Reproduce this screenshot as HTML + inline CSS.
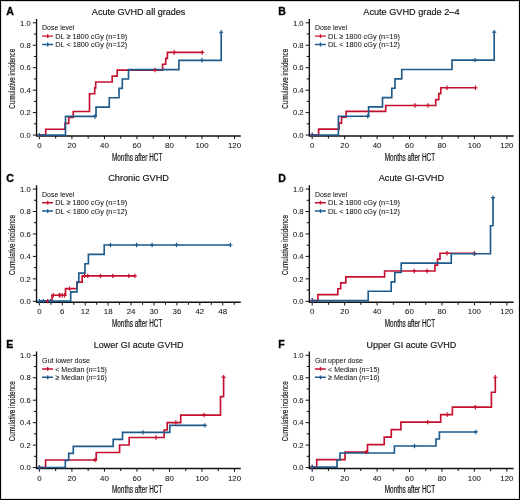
<!DOCTYPE html>
<html><head><meta charset="utf-8"><style>
html,body{margin:0;padding:0;background:#fff;}
svg{display:block;font-family:"Liberation Sans", sans-serif;filter:blur(0.3px);}
text{stroke:#111;stroke-width:0.05px;paint-order:stroke;}
text.b{stroke-width:0.2px;}
text.c{stroke-width:0.14px;}
text.t{stroke-width:0.15px;}
</style></head><body>
<svg width="520" height="500" viewBox="0 0 520 500">
<rect x="0" y="0" width="520" height="500" fill="#fff"/>
<g><text x="6.30" y="14.60" font-weight="bold" font-size="10.6" fill="#000" style="stroke:#000;stroke-width:0.3px">A</text><text x="138.60" y="14.50" class="t" font-size="9.5" fill="#111" text-anchor="middle" textLength="93.5" lengthAdjust="spacingAndGlyphs">Acute GVHD all grades</text><path d="M36.55 19.00V136.60M35.95 136.00H240.80" stroke="#111" stroke-width="1.35" fill="none"/><path d="M32.85 135.05H36.55 M33.85 123.83H36.55 M32.85 112.60H36.55 M33.85 101.38H36.55 M32.85 90.15H36.55 M33.85 78.93H36.55 M32.85 67.70H36.55 M33.85 56.48H36.55 M32.85 45.25H36.55 M33.85 34.03H36.55 M32.85 22.80H36.55 M39.40 136.00V139.20 M55.66 136.00V138.60 M71.92 136.00V139.20 M88.18 136.00V138.60 M104.44 136.00V139.20 M120.70 136.00V138.60 M136.96 136.00V139.20 M153.22 136.00V138.60 M169.48 136.00V139.20 M185.74 136.00V138.60 M202.00 136.00V139.20 M218.26 136.00V138.60 M234.52 136.00V139.20" stroke="#111" stroke-width="1" fill="none"/><text x="30.80" y="137.75" font-size="7.9" fill="#111" text-anchor="end" textLength="10.7" lengthAdjust="spacingAndGlyphs">0.0</text><text x="30.80" y="115.30" font-size="7.9" fill="#111" text-anchor="end" textLength="10.7" lengthAdjust="spacingAndGlyphs">0.2</text><text x="30.80" y="92.85" font-size="7.9" fill="#111" text-anchor="end" textLength="10.7" lengthAdjust="spacingAndGlyphs">0.4</text><text x="30.80" y="70.40" font-size="7.9" fill="#111" text-anchor="end" textLength="10.7" lengthAdjust="spacingAndGlyphs">0.6</text><text x="30.80" y="47.95" font-size="7.9" fill="#111" text-anchor="end" textLength="10.7" lengthAdjust="spacingAndGlyphs">0.8</text><text x="30.80" y="25.50" font-size="7.9" fill="#111" text-anchor="end" textLength="10.7" lengthAdjust="spacingAndGlyphs">1.0</text><text x="39.40" y="148.00" font-size="8.1" fill="#111" text-anchor="middle" textLength="4.40" lengthAdjust="spacingAndGlyphs">0</text><text x="71.92" y="148.00" font-size="8.1" fill="#111" text-anchor="middle" textLength="8.80" lengthAdjust="spacingAndGlyphs">20</text><text x="104.44" y="148.00" font-size="8.1" fill="#111" text-anchor="middle" textLength="8.80" lengthAdjust="spacingAndGlyphs">40</text><text x="136.96" y="148.00" font-size="8.1" fill="#111" text-anchor="middle" textLength="8.80" lengthAdjust="spacingAndGlyphs">60</text><text x="169.48" y="148.00" font-size="8.1" fill="#111" text-anchor="middle" textLength="8.80" lengthAdjust="spacingAndGlyphs">80</text><text x="202.00" y="148.00" font-size="8.1" fill="#111" text-anchor="middle" textLength="13.20" lengthAdjust="spacingAndGlyphs">100</text><text x="234.52" y="148.00" font-size="8.1" fill="#111" text-anchor="middle" textLength="13.20" lengthAdjust="spacingAndGlyphs">120</text><text class="b" x="112.00" y="160.50" font-size="10" fill="#111" textLength="50.3" lengthAdjust="spacingAndGlyphs">Months after HCT</text><text class="c" transform="translate(15.20 108.80) rotate(-90)" font-size="9.9" fill="#111" textLength="60" lengthAdjust="spacingAndGlyphs">Cumulative incidence</text><text x="42.10" y="30.10" font-size="7.6" fill="#111" textLength="32.3" lengthAdjust="spacingAndGlyphs">Dose level</text><path d="M42.10 36.15H53.00M47.70 34.25V38.05" stroke="#c4102f" stroke-width="1.4" fill="none"/><text x="55.30" y="38.80" font-size="7.7" fill="#111" textLength="71.9" lengthAdjust="spacingAndGlyphs">DL ≥ 1800 cGy (n=19)</text><path d="M42.10 44.50H53.00M47.70 42.60V46.40" stroke="#1e5b8c" stroke-width="1.4" fill="none"/><text x="55.30" y="47.15" font-size="7.7" fill="#111" textLength="71.9" lengthAdjust="spacingAndGlyphs">DL &lt; 1800 cGy (n=12)</text><path d="M39.40 135.15H45.75V129.24H65.00V123.33H68.75V117.43H73.25V111.52H89.50V93.79H94.70V87.89H95.70V81.98H112.20V76.07H117.20V70.16H162.60V64.26H165.70V58.35H167.40V52.44H202.30" stroke="#c4102f" stroke-width="1.65" fill="none" stroke-linejoin="miter"/><path d="M39.40 135.15H65.50V116.44H96.00V107.09H109.30V97.73H119.00V88.38H122.30V79.03H128.50V69.67H178.90V60.32H221.20V32.25" stroke="#1e5b8c" stroke-width="1.65" fill="none" stroke-linejoin="miter"/><path d="M39.40 132.95V137.35M37.30 135.15H41.50 M154.90 67.96V72.36M152.80 70.16H157.00 M174.20 50.24V54.64M172.10 52.44H176.30 M202.30 50.24V54.64M200.20 52.44H204.40" stroke="#c4102f" stroke-width="1.2" fill="none"/><path d="M39.40 132.95V137.35M37.30 135.15H41.50 M95.00 114.24V118.64M92.90 116.44H97.10 M202.00 58.12V62.52M199.90 60.32H204.10 M221.20 30.05V34.45M219.10 32.25H223.30" stroke="#1e5b8c" stroke-width="1.2" fill="none"/></g><g><text x="278.30" y="14.60" font-weight="bold" font-size="10.6" fill="#000" style="stroke:#000;stroke-width:0.3px">B</text><text x="411.40" y="14.50" class="t" font-size="9.5" fill="#111" text-anchor="middle" textLength="96.25" lengthAdjust="spacingAndGlyphs">Acute GVHD grade 2–4</text><path d="M309.35 19.00V136.60M308.75 136.00H513.60" stroke="#111" stroke-width="1.35" fill="none"/><path d="M305.65 135.05H309.35 M306.65 123.83H309.35 M305.65 112.60H309.35 M306.65 101.38H309.35 M305.65 90.15H309.35 M306.65 78.93H309.35 M305.65 67.70H309.35 M306.65 56.48H309.35 M305.65 45.25H309.35 M306.65 34.03H309.35 M305.65 22.80H309.35 M312.20 136.00V139.20 M328.42 136.00V138.60 M344.64 136.00V139.20 M360.86 136.00V138.60 M377.08 136.00V139.20 M393.30 136.00V138.60 M409.52 136.00V139.20 M425.74 136.00V138.60 M441.96 136.00V139.20 M458.18 136.00V138.60 M474.40 136.00V139.20 M490.62 136.00V138.60 M506.84 136.00V139.20" stroke="#111" stroke-width="1" fill="none"/><text x="303.60" y="137.75" font-size="7.9" fill="#111" text-anchor="end" textLength="10.7" lengthAdjust="spacingAndGlyphs">0.0</text><text x="303.60" y="115.30" font-size="7.9" fill="#111" text-anchor="end" textLength="10.7" lengthAdjust="spacingAndGlyphs">0.2</text><text x="303.60" y="92.85" font-size="7.9" fill="#111" text-anchor="end" textLength="10.7" lengthAdjust="spacingAndGlyphs">0.4</text><text x="303.60" y="70.40" font-size="7.9" fill="#111" text-anchor="end" textLength="10.7" lengthAdjust="spacingAndGlyphs">0.6</text><text x="303.60" y="47.95" font-size="7.9" fill="#111" text-anchor="end" textLength="10.7" lengthAdjust="spacingAndGlyphs">0.8</text><text x="303.60" y="25.50" font-size="7.9" fill="#111" text-anchor="end" textLength="10.7" lengthAdjust="spacingAndGlyphs">1.0</text><text x="312.20" y="148.00" font-size="8.1" fill="#111" text-anchor="middle" textLength="4.40" lengthAdjust="spacingAndGlyphs">0</text><text x="344.64" y="148.00" font-size="8.1" fill="#111" text-anchor="middle" textLength="8.80" lengthAdjust="spacingAndGlyphs">20</text><text x="377.08" y="148.00" font-size="8.1" fill="#111" text-anchor="middle" textLength="8.80" lengthAdjust="spacingAndGlyphs">40</text><text x="409.52" y="148.00" font-size="8.1" fill="#111" text-anchor="middle" textLength="8.80" lengthAdjust="spacingAndGlyphs">60</text><text x="441.96" y="148.00" font-size="8.1" fill="#111" text-anchor="middle" textLength="8.80" lengthAdjust="spacingAndGlyphs">80</text><text x="474.40" y="148.00" font-size="8.1" fill="#111" text-anchor="middle" textLength="13.20" lengthAdjust="spacingAndGlyphs">100</text><text x="506.84" y="148.00" font-size="8.1" fill="#111" text-anchor="middle" textLength="13.20" lengthAdjust="spacingAndGlyphs">120</text><text class="b" x="384.80" y="160.50" font-size="10" fill="#111" textLength="50.3" lengthAdjust="spacingAndGlyphs">Months after HCT</text><text class="c" transform="translate(288.00 108.80) rotate(-90)" font-size="9.9" fill="#111" textLength="60" lengthAdjust="spacingAndGlyphs">Cumulative incidence</text><text x="314.90" y="30.10" font-size="7.6" fill="#111" textLength="32.3" lengthAdjust="spacingAndGlyphs">Dose level</text><path d="M314.90 36.15H325.80M320.50 34.25V38.05" stroke="#c4102f" stroke-width="1.4" fill="none"/><text x="328.10" y="38.80" font-size="7.7" fill="#111" textLength="71.9" lengthAdjust="spacingAndGlyphs">DL ≥ 1800 cGy (n=19)</text><path d="M314.90 44.50H325.80M320.50 42.60V46.40" stroke="#1e5b8c" stroke-width="1.4" fill="none"/><text x="328.10" y="47.15" font-size="7.7" fill="#111" textLength="71.9" lengthAdjust="spacingAndGlyphs">DL &lt; 1800 cGy (n=12)</text><path d="M312.20 135.00H318.60V129.09H339.00V123.18H341.50V117.28H346.10V111.37H385.70V105.46H435.70V99.55H438.80V93.64H440.80V87.74H475.50" stroke="#c4102f" stroke-width="1.65" fill="none" stroke-linejoin="miter"/><path d="M312.20 135.00H338.40V116.29H368.60V106.94H382.50V97.58H391.80V88.23H395.00V78.88H401.75V69.52H452.00V60.17H494.20V32.10" stroke="#1e5b8c" stroke-width="1.65" fill="none" stroke-linejoin="miter"/><path d="M312.20 132.80V137.20M310.10 135.00H314.30 M415.00 103.26V107.66M412.90 105.46H417.10 M428.00 103.26V107.66M425.90 105.46H430.10 M447.00 85.54V89.94M444.90 87.74H449.10 M475.50 85.54V89.94M473.40 87.74H477.60" stroke="#c4102f" stroke-width="1.2" fill="none"/><path d="M312.20 132.80V137.20M310.10 135.00H314.30 M367.75 114.09V118.49M365.65 116.29H369.85 M475.00 57.97V62.37M472.90 60.17H477.10 M494.20 29.90V34.30M492.10 32.10H496.30" stroke="#1e5b8c" stroke-width="1.2" fill="none"/></g><g><text x="6.20" y="181.80" font-weight="bold" font-size="10.6" fill="#000" style="stroke:#000;stroke-width:0.3px">C</text><text x="138.60" y="181.10" class="t" font-size="9.5" fill="#111" text-anchor="middle" textLength="60.8" lengthAdjust="spacingAndGlyphs">Chronic GVHD</text><path d="M36.55 185.25V302.85M35.95 302.25H240.80" stroke="#111" stroke-width="1.35" fill="none"/><path d="M32.85 301.30H36.55 M33.85 290.07H36.55 M32.85 278.85H36.55 M33.85 267.62H36.55 M32.85 256.40H36.55 M33.85 245.18H36.55 M32.85 233.95H36.55 M33.85 222.73H36.55 M32.85 211.50H36.55 M33.85 200.28H36.55 M32.85 189.05H36.55 M39.40 302.25V305.45 M50.86 302.25V304.85 M62.32 302.25V305.45 M73.78 302.25V304.85 M85.24 302.25V305.45 M96.70 302.25V304.85 M108.16 302.25V305.45 M119.62 302.25V304.85 M131.08 302.25V305.45 M142.54 302.25V304.85 M154.00 302.25V305.45 M165.46 302.25V304.85 M176.92 302.25V305.45 M188.38 302.25V304.85 M199.84 302.25V305.45 M211.30 302.25V304.85 M222.76 302.25V305.45 M234.22 302.25V304.85" stroke="#111" stroke-width="1" fill="none"/><text x="30.80" y="304.00" font-size="7.9" fill="#111" text-anchor="end" textLength="10.7" lengthAdjust="spacingAndGlyphs">0.0</text><text x="30.80" y="281.55" font-size="7.9" fill="#111" text-anchor="end" textLength="10.7" lengthAdjust="spacingAndGlyphs">0.2</text><text x="30.80" y="259.10" font-size="7.9" fill="#111" text-anchor="end" textLength="10.7" lengthAdjust="spacingAndGlyphs">0.4</text><text x="30.80" y="236.65" font-size="7.9" fill="#111" text-anchor="end" textLength="10.7" lengthAdjust="spacingAndGlyphs">0.6</text><text x="30.80" y="214.20" font-size="7.9" fill="#111" text-anchor="end" textLength="10.7" lengthAdjust="spacingAndGlyphs">0.8</text><text x="30.80" y="191.75" font-size="7.9" fill="#111" text-anchor="end" textLength="10.7" lengthAdjust="spacingAndGlyphs">1.0</text><text x="39.40" y="314.25" font-size="8.1" fill="#111" text-anchor="middle" textLength="4.40" lengthAdjust="spacingAndGlyphs">0</text><text x="62.32" y="314.25" font-size="8.1" fill="#111" text-anchor="middle" textLength="4.40" lengthAdjust="spacingAndGlyphs">6</text><text x="85.24" y="314.25" font-size="8.1" fill="#111" text-anchor="middle" textLength="8.80" lengthAdjust="spacingAndGlyphs">12</text><text x="108.16" y="314.25" font-size="8.1" fill="#111" text-anchor="middle" textLength="8.80" lengthAdjust="spacingAndGlyphs">18</text><text x="131.08" y="314.25" font-size="8.1" fill="#111" text-anchor="middle" textLength="8.80" lengthAdjust="spacingAndGlyphs">24</text><text x="154.00" y="314.25" font-size="8.1" fill="#111" text-anchor="middle" textLength="8.80" lengthAdjust="spacingAndGlyphs">30</text><text x="176.92" y="314.25" font-size="8.1" fill="#111" text-anchor="middle" textLength="8.80" lengthAdjust="spacingAndGlyphs">36</text><text x="199.84" y="314.25" font-size="8.1" fill="#111" text-anchor="middle" textLength="8.80" lengthAdjust="spacingAndGlyphs">42</text><text x="222.76" y="314.25" font-size="8.1" fill="#111" text-anchor="middle" textLength="8.80" lengthAdjust="spacingAndGlyphs">48</text><text class="b" x="112.00" y="326.75" font-size="10" fill="#111" textLength="50.3" lengthAdjust="spacingAndGlyphs">Months after HCT</text><text class="c" transform="translate(15.20 275.05) rotate(-90)" font-size="9.9" fill="#111" textLength="60" lengthAdjust="spacingAndGlyphs">Cumulative incidence</text><text x="42.10" y="196.65" font-size="7.6" fill="#111" textLength="32.3" lengthAdjust="spacingAndGlyphs">Dose level</text><path d="M42.10 202.70H53.00M47.70 200.80V204.60" stroke="#c4102f" stroke-width="1.4" fill="none"/><text x="55.30" y="205.35" font-size="7.7" fill="#111" textLength="71.9" lengthAdjust="spacingAndGlyphs">DL ≥ 1800 cGy (n=19)</text><path d="M42.10 211.05H53.00M47.70 209.15V212.95" stroke="#1e5b8c" stroke-width="1.4" fill="none"/><text x="55.30" y="213.70" font-size="7.7" fill="#111" textLength="71.9" lengthAdjust="spacingAndGlyphs">DL &lt; 1800 cGy (n=12)</text><path d="M39.40 301.15H52.00V295.24H65.50V288.58H77.00V282.18H82.20V275.89H134.80" stroke="#c4102f" stroke-width="1.65" fill="none" stroke-linejoin="miter"/><path d="M39.40 301.15H70.70V291.80H77.00V282.44H78.80V273.09H85.00V263.73H88.40V254.38H104.20V245.02H230.40" stroke="#1e5b8c" stroke-width="1.65" fill="none" stroke-linejoin="miter"/><path d="M47.75 298.95V303.35M45.65 301.15H49.85 M53.25 293.04V297.44M51.15 295.24H55.35 M59.25 293.04V297.44M57.15 295.24H61.35 M60.00 293.04V297.44M57.90 295.24H62.10 M62.25 293.04V297.44M60.15 295.24H64.35 M64.50 293.04V297.44M62.40 295.24H66.60 M69.50 286.38V290.78M67.40 288.58H71.60 M84.60 273.69V278.09M82.50 275.89H86.70 M87.80 273.69V278.09M85.70 275.89H89.90 M100.50 273.69V278.09M98.40 275.89H102.60 M112.80 273.69V278.09M110.70 275.89H114.90 M128.80 273.69V278.09M126.70 275.89H130.90 M134.80 273.69V278.09M132.70 275.89H136.90" stroke="#c4102f" stroke-width="1.2" fill="none"/><path d="M39.40 298.95V303.35M37.30 301.15H41.50 M43.40 298.95V303.35M41.30 301.15H45.50 M50.40 298.95V303.35M48.30 301.15H52.50 M110.50 242.82V247.22M108.40 245.02H112.60 M136.60 242.82V247.22M134.50 245.02H138.70 M152.10 242.82V247.22M150.00 245.02H154.20 M176.50 242.82V247.22M174.40 245.02H178.60 M230.40 242.82V247.22M228.30 245.02H232.50" stroke="#1e5b8c" stroke-width="1.2" fill="none"/></g><g><text x="278.30" y="181.80" font-weight="bold" font-size="10.6" fill="#000" style="stroke:#000;stroke-width:0.3px">D</text><text x="411.40" y="181.10" class="t" font-size="9.5" fill="#111" text-anchor="middle" textLength="65.4" lengthAdjust="spacingAndGlyphs">Acute GI-GVHD</text><path d="M309.35 185.25V302.85M308.75 302.25H513.60" stroke="#111" stroke-width="1.35" fill="none"/><path d="M305.65 301.30H309.35 M306.65 290.07H309.35 M305.65 278.85H309.35 M306.65 267.62H309.35 M305.65 256.40H309.35 M306.65 245.18H309.35 M305.65 233.95H309.35 M306.65 222.73H309.35 M305.65 211.50H309.35 M306.65 200.28H309.35 M305.65 189.05H309.35 M312.20 302.25V305.45 M328.42 302.25V304.85 M344.64 302.25V305.45 M360.86 302.25V304.85 M377.08 302.25V305.45 M393.30 302.25V304.85 M409.52 302.25V305.45 M425.74 302.25V304.85 M441.96 302.25V305.45 M458.18 302.25V304.85 M474.40 302.25V305.45 M490.62 302.25V304.85 M506.84 302.25V305.45" stroke="#111" stroke-width="1" fill="none"/><text x="303.60" y="304.00" font-size="7.9" fill="#111" text-anchor="end" textLength="10.7" lengthAdjust="spacingAndGlyphs">0.0</text><text x="303.60" y="281.55" font-size="7.9" fill="#111" text-anchor="end" textLength="10.7" lengthAdjust="spacingAndGlyphs">0.2</text><text x="303.60" y="259.10" font-size="7.9" fill="#111" text-anchor="end" textLength="10.7" lengthAdjust="spacingAndGlyphs">0.4</text><text x="303.60" y="236.65" font-size="7.9" fill="#111" text-anchor="end" textLength="10.7" lengthAdjust="spacingAndGlyphs">0.6</text><text x="303.60" y="214.20" font-size="7.9" fill="#111" text-anchor="end" textLength="10.7" lengthAdjust="spacingAndGlyphs">0.8</text><text x="303.60" y="191.75" font-size="7.9" fill="#111" text-anchor="end" textLength="10.7" lengthAdjust="spacingAndGlyphs">1.0</text><text x="312.20" y="314.25" font-size="8.1" fill="#111" text-anchor="middle" textLength="4.40" lengthAdjust="spacingAndGlyphs">0</text><text x="344.64" y="314.25" font-size="8.1" fill="#111" text-anchor="middle" textLength="8.80" lengthAdjust="spacingAndGlyphs">20</text><text x="377.08" y="314.25" font-size="8.1" fill="#111" text-anchor="middle" textLength="8.80" lengthAdjust="spacingAndGlyphs">40</text><text x="409.52" y="314.25" font-size="8.1" fill="#111" text-anchor="middle" textLength="8.80" lengthAdjust="spacingAndGlyphs">60</text><text x="441.96" y="314.25" font-size="8.1" fill="#111" text-anchor="middle" textLength="8.80" lengthAdjust="spacingAndGlyphs">80</text><text x="474.40" y="314.25" font-size="8.1" fill="#111" text-anchor="middle" textLength="13.20" lengthAdjust="spacingAndGlyphs">100</text><text x="506.84" y="314.25" font-size="8.1" fill="#111" text-anchor="middle" textLength="13.20" lengthAdjust="spacingAndGlyphs">120</text><text class="b" x="384.80" y="326.75" font-size="10" fill="#111" textLength="50.3" lengthAdjust="spacingAndGlyphs">Months after HCT</text><text class="c" transform="translate(288.00 275.05) rotate(-90)" font-size="9.9" fill="#111" textLength="60" lengthAdjust="spacingAndGlyphs">Cumulative incidence</text><text x="314.90" y="196.65" font-size="7.6" fill="#111" textLength="32.3" lengthAdjust="spacingAndGlyphs">Dose level</text><path d="M314.90 202.70H325.80M320.50 200.80V204.60" stroke="#c4102f" stroke-width="1.4" fill="none"/><text x="328.10" y="205.35" font-size="7.7" fill="#111" textLength="71.9" lengthAdjust="spacingAndGlyphs">DL ≥ 1800 cGy (n=19)</text><path d="M314.90 211.05H325.80M320.50 209.15V212.95" stroke="#1e5b8c" stroke-width="1.4" fill="none"/><text x="328.10" y="213.70" font-size="7.7" fill="#111" textLength="71.9" lengthAdjust="spacingAndGlyphs">DL &lt; 1800 cGy (n=12)</text><path d="M312.20 300.55H317.90V294.64H337.80V288.73H340.70V282.83H345.80V276.92H384.60V271.01H435.00V265.10H437.50V259.19H440.00V253.29H474.50" stroke="#c4102f" stroke-width="1.65" fill="none" stroke-linejoin="miter"/><path d="M312.20 300.55H368.20V291.20H391.20V281.84H394.80V272.49H401.20V263.13H451.25V253.78H490.50V225.72H493.00V197.65" stroke="#1e5b8c" stroke-width="1.65" fill="none" stroke-linejoin="miter"/><path d="M312.20 298.35V302.75M310.10 300.55H314.30 M414.25 268.81V273.21M412.15 271.01H416.35 M427.00 268.81V273.21M424.90 271.01H429.10 M447.00 251.09V255.49M444.90 253.29H449.10 M474.50 251.09V255.49M472.40 253.29H476.60" stroke="#c4102f" stroke-width="1.2" fill="none"/><path d="M312.20 298.35V302.75M310.10 300.55H314.30 M474.50 251.58V255.98M472.40 253.78H476.60 M493.00 195.45V199.85M490.90 197.65H495.10" stroke="#1e5b8c" stroke-width="1.2" fill="none"/></g><g><text x="6.20" y="348.05" font-weight="bold" font-size="10.6" fill="#000" style="stroke:#000;stroke-width:0.3px">E</text><text x="138.60" y="348.00" class="t" font-size="9.5" fill="#111" text-anchor="middle" textLength="89.6" lengthAdjust="spacingAndGlyphs">Lower GI acute GVHD</text><path d="M36.55 351.50V469.10M35.95 468.50H240.80" stroke="#111" stroke-width="1.35" fill="none"/><path d="M32.85 467.55H36.55 M33.85 456.32H36.55 M32.85 445.10H36.55 M33.85 433.88H36.55 M32.85 422.65H36.55 M33.85 411.43H36.55 M32.85 400.20H36.55 M33.85 388.98H36.55 M32.85 377.75H36.55 M33.85 366.52H36.55 M32.85 355.30H36.55 M39.40 468.50V471.70 M55.66 468.50V471.10 M71.92 468.50V471.70 M88.18 468.50V471.10 M104.44 468.50V471.70 M120.70 468.50V471.10 M136.96 468.50V471.70 M153.22 468.50V471.10 M169.48 468.50V471.70 M185.74 468.50V471.10 M202.00 468.50V471.70 M218.26 468.50V471.10 M234.52 468.50V471.70" stroke="#111" stroke-width="1" fill="none"/><text x="30.80" y="470.25" font-size="7.9" fill="#111" text-anchor="end" textLength="10.7" lengthAdjust="spacingAndGlyphs">0.0</text><text x="30.80" y="447.80" font-size="7.9" fill="#111" text-anchor="end" textLength="10.7" lengthAdjust="spacingAndGlyphs">0.2</text><text x="30.80" y="425.35" font-size="7.9" fill="#111" text-anchor="end" textLength="10.7" lengthAdjust="spacingAndGlyphs">0.4</text><text x="30.80" y="402.90" font-size="7.9" fill="#111" text-anchor="end" textLength="10.7" lengthAdjust="spacingAndGlyphs">0.6</text><text x="30.80" y="380.45" font-size="7.9" fill="#111" text-anchor="end" textLength="10.7" lengthAdjust="spacingAndGlyphs">0.8</text><text x="30.80" y="358.00" font-size="7.9" fill="#111" text-anchor="end" textLength="10.7" lengthAdjust="spacingAndGlyphs">1.0</text><text x="39.40" y="480.50" font-size="8.1" fill="#111" text-anchor="middle" textLength="4.40" lengthAdjust="spacingAndGlyphs">0</text><text x="71.92" y="480.50" font-size="8.1" fill="#111" text-anchor="middle" textLength="8.80" lengthAdjust="spacingAndGlyphs">20</text><text x="104.44" y="480.50" font-size="8.1" fill="#111" text-anchor="middle" textLength="8.80" lengthAdjust="spacingAndGlyphs">40</text><text x="136.96" y="480.50" font-size="8.1" fill="#111" text-anchor="middle" textLength="8.80" lengthAdjust="spacingAndGlyphs">60</text><text x="169.48" y="480.50" font-size="8.1" fill="#111" text-anchor="middle" textLength="8.80" lengthAdjust="spacingAndGlyphs">80</text><text x="202.00" y="480.50" font-size="8.1" fill="#111" text-anchor="middle" textLength="13.20" lengthAdjust="spacingAndGlyphs">100</text><text x="234.52" y="480.50" font-size="8.1" fill="#111" text-anchor="middle" textLength="13.20" lengthAdjust="spacingAndGlyphs">120</text><text class="b" x="112.00" y="493.00" font-size="10" fill="#111" textLength="50.3" lengthAdjust="spacingAndGlyphs">Months after HCT</text><text class="c" transform="translate(15.20 441.30) rotate(-90)" font-size="9.9" fill="#111" textLength="60" lengthAdjust="spacingAndGlyphs">Cumulative incidence</text><text x="42.10" y="362.90" font-size="7.6" fill="#111" textLength="47.9" lengthAdjust="spacingAndGlyphs">Gut lower dose</text><path d="M42.10 368.95H53.00M47.70 367.05V370.85" stroke="#c4102f" stroke-width="1.4" fill="none"/><text x="55.30" y="371.60" font-size="7.7" fill="#111" textLength="51.6" lengthAdjust="spacingAndGlyphs">&lt; Median (<tspan font-style="italic">n</tspan>=15)</text><path d="M42.10 377.30H53.00M47.70 375.40V379.20" stroke="#1e5b8c" stroke-width="1.4" fill="none"/><text x="55.30" y="379.95" font-size="7.7" fill="#111" textLength="51.6" lengthAdjust="spacingAndGlyphs">≥ Median (<tspan font-style="italic">n</tspan>=16)</text><path d="M39.40 467.45H45.60V459.97H96.25V452.48H119.60V445.00H129.20V437.52H164.10V430.03H167.20V422.55H180.70V415.07H220.50V396.62H223.60V377.20" stroke="#c4102f" stroke-width="1.65" fill="none" stroke-linejoin="miter"/><path d="M39.40 467.45H65.30V460.43H68.70V453.42H73.30V446.40H113.20V439.39H122.50V432.37H169.80V425.36H204.90" stroke="#1e5b8c" stroke-width="1.65" fill="none" stroke-linejoin="miter"/><path d="M39.40 465.25V469.65M37.30 467.45H41.50 M95.00 457.77V462.17M92.90 459.97H97.10 M156.00 435.32V439.72M153.90 437.52H158.10 M175.80 420.35V424.75M173.70 422.55H177.90 M204.10 412.87V417.27M202.00 415.07H206.20 M223.60 375.00V379.40M221.50 377.20H225.70" stroke="#c4102f" stroke-width="1.2" fill="none"/><path d="M39.40 465.25V469.65M37.30 467.45H41.50 M143.00 430.17V434.57M140.90 432.37H145.10 M204.90 423.16V427.56M202.80 425.36H207.00" stroke="#1e5b8c" stroke-width="1.2" fill="none"/></g><g><text x="278.30" y="348.05" font-weight="bold" font-size="10.6" fill="#000" style="stroke:#000;stroke-width:0.3px">F</text><text x="411.40" y="348.00" class="t" font-size="9.5" fill="#111" text-anchor="middle" textLength="89.6" lengthAdjust="spacingAndGlyphs">Upper GI acute GVHD</text><path d="M309.35 351.50V469.10M308.75 468.50H513.60" stroke="#111" stroke-width="1.35" fill="none"/><path d="M305.65 467.55H309.35 M306.65 456.32H309.35 M305.65 445.10H309.35 M306.65 433.88H309.35 M305.65 422.65H309.35 M306.65 411.43H309.35 M305.65 400.20H309.35 M306.65 388.98H309.35 M305.65 377.75H309.35 M306.65 366.52H309.35 M305.65 355.30H309.35 M312.20 468.50V471.70 M328.42 468.50V471.10 M344.64 468.50V471.70 M360.86 468.50V471.10 M377.08 468.50V471.70 M393.30 468.50V471.10 M409.52 468.50V471.70 M425.74 468.50V471.10 M441.96 468.50V471.70 M458.18 468.50V471.10 M474.40 468.50V471.70 M490.62 468.50V471.10 M506.84 468.50V471.70" stroke="#111" stroke-width="1" fill="none"/><text x="303.60" y="470.25" font-size="7.9" fill="#111" text-anchor="end" textLength="10.7" lengthAdjust="spacingAndGlyphs">0.0</text><text x="303.60" y="447.80" font-size="7.9" fill="#111" text-anchor="end" textLength="10.7" lengthAdjust="spacingAndGlyphs">0.2</text><text x="303.60" y="425.35" font-size="7.9" fill="#111" text-anchor="end" textLength="10.7" lengthAdjust="spacingAndGlyphs">0.4</text><text x="303.60" y="402.90" font-size="7.9" fill="#111" text-anchor="end" textLength="10.7" lengthAdjust="spacingAndGlyphs">0.6</text><text x="303.60" y="380.45" font-size="7.9" fill="#111" text-anchor="end" textLength="10.7" lengthAdjust="spacingAndGlyphs">0.8</text><text x="303.60" y="358.00" font-size="7.9" fill="#111" text-anchor="end" textLength="10.7" lengthAdjust="spacingAndGlyphs">1.0</text><text x="312.20" y="480.50" font-size="8.1" fill="#111" text-anchor="middle" textLength="4.40" lengthAdjust="spacingAndGlyphs">0</text><text x="344.64" y="480.50" font-size="8.1" fill="#111" text-anchor="middle" textLength="8.80" lengthAdjust="spacingAndGlyphs">20</text><text x="377.08" y="480.50" font-size="8.1" fill="#111" text-anchor="middle" textLength="8.80" lengthAdjust="spacingAndGlyphs">40</text><text x="409.52" y="480.50" font-size="8.1" fill="#111" text-anchor="middle" textLength="8.80" lengthAdjust="spacingAndGlyphs">60</text><text x="441.96" y="480.50" font-size="8.1" fill="#111" text-anchor="middle" textLength="8.80" lengthAdjust="spacingAndGlyphs">80</text><text x="474.40" y="480.50" font-size="8.1" fill="#111" text-anchor="middle" textLength="13.20" lengthAdjust="spacingAndGlyphs">100</text><text x="506.84" y="480.50" font-size="8.1" fill="#111" text-anchor="middle" textLength="13.20" lengthAdjust="spacingAndGlyphs">120</text><text class="b" x="384.80" y="493.00" font-size="10" fill="#111" textLength="50.3" lengthAdjust="spacingAndGlyphs">Months after HCT</text><text class="c" transform="translate(288.00 441.30) rotate(-90)" font-size="9.9" fill="#111" textLength="60" lengthAdjust="spacingAndGlyphs">Cumulative incidence</text><text x="314.90" y="362.90" font-size="7.6" fill="#111" textLength="47.9" lengthAdjust="spacingAndGlyphs">Gut upper dose</text><path d="M314.90 368.95H325.80M320.50 367.05V370.85" stroke="#c4102f" stroke-width="1.4" fill="none"/><text x="328.10" y="371.60" font-size="7.7" fill="#111" textLength="51.6" lengthAdjust="spacingAndGlyphs">&lt; Median (<tspan font-style="italic">n</tspan>=15)</text><path d="M314.90 377.30H325.80M320.50 375.40V379.20" stroke="#1e5b8c" stroke-width="1.4" fill="none"/><text x="328.10" y="379.95" font-size="7.7" fill="#111" textLength="51.6" lengthAdjust="spacingAndGlyphs">≥ Median (<tspan font-style="italic">n</tspan>=16)</text><path d="M312.20 467.05H316.75V459.57H345.00V452.08H367.50V444.60H384.25V437.12H391.30V429.63H400.90V422.15H440.70V414.67H452.40V407.18H491.40V392.22H495.30V377.25" stroke="#c4102f" stroke-width="1.65" fill="none" stroke-linejoin="miter"/><path d="M312.20 467.05H337.00V460.03H340.00V453.02H394.40V446.00H436.00V438.99H439.40V431.97H475.80" stroke="#1e5b8c" stroke-width="1.65" fill="none" stroke-linejoin="miter"/><path d="M312.20 464.85V469.25M310.10 467.05H314.30 M366.25 449.88V454.28M364.15 452.08H368.35 M427.70 419.95V424.35M425.60 422.15H429.80 M447.20 412.47V416.87M445.10 414.67H449.30 M475.30 404.98V409.38M473.20 407.18H477.40 M495.30 375.05V379.45M493.20 377.25H497.40" stroke="#c4102f" stroke-width="1.2" fill="none"/><path d="M312.20 464.85V469.25M310.10 467.05H314.30 M414.50 443.80V448.20M412.40 446.00H416.60 M475.80 429.77V434.17M473.70 431.97H477.90" stroke="#1e5b8c" stroke-width="1.2" fill="none"/></g>
<g shape-rendering="crispEdges"><rect x="1" y="1" width="518" height="1" fill="#d6d6d6"/><rect x="1" y="1" width="1" height="498" fill="#e2e2e2"/><rect x="1" y="498" width="518" height="1" fill="#dedede"/><rect x="518" y="1" width="1" height="498" fill="#e6e6e6"/><rect x="0" y="0" width="520" height="1" fill="#000"/><rect x="0" y="0" width="1" height="500" fill="#000"/><rect x="0" y="499" width="520" height="1" fill="#000"/><rect x="519" y="0" width="1" height="500" fill="#000"/></g>
</svg>
</body></html>
